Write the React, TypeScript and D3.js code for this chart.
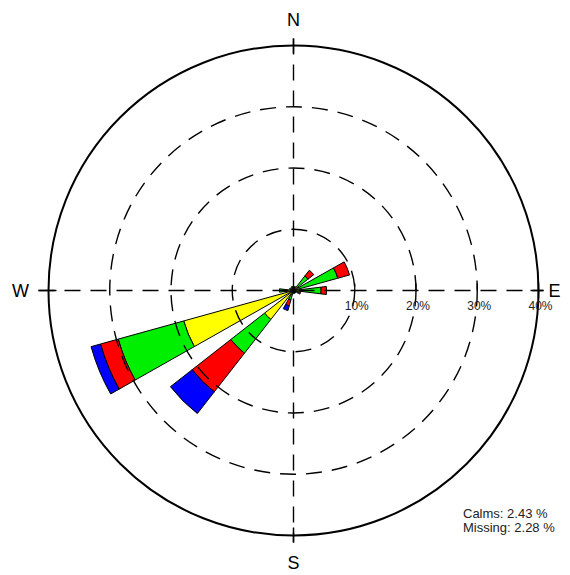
import React from "react";
import * as d3 from "d3";

// Wind directions (16-point compass), clockwise from north
const directions = ["N", "NNE", "NE", "ENE", "E", "ESE", "SE", "SSE", "S", "SSW", "SW", "WSW", "W", "WNW", "NW", "NNW"];

// Frequency (%) per speed class, one value per direction
const classYellow = [0.4, 0.4, 0.8, 1.0, 1.0, 0.5, 0.3, 0.3, 0.3, 0.6, 6.0, 18.6, 1.5, 0.4, 0.4, 0.4];
const classGreen = [0.3, 0.3, 2.2, 6.5, 3.5, 0.4, 0.2, 0.2, 0.2, 1.0, 7.0, 11.1, 0.8, 0.3, 0.2, 0.3];
const classRed = [0, 0, 1.2, 2.0, 0.9, 0.3, 0, 0, 0, 1.0, 8.0, 3.0, 0, 0, 0, 0];
const classBlue = [0, 0, 0, 0, 0, 0, 0, 0, 0, 0.8, 4.5, 1.6, 0, 0, 0, 0];

const speedClasses = [
  { values: classYellow, color: "#ffff00" },
  { values: classGreen, color: "#00ee00" },
  { values: classRed, color: "#ff0000" },
  { values: classBlue, color: "#0000ff" },
];

// Rings and their labels
const ringValues = [10, 20, 30];
const maxValue = 40;
const ringLabels = ["10%", "20%", "30%", "40%"];
const compassLabels = [
  { text: "N", angle: 0, dist: 271 },
  { text: "E", angle: 90, dist: 261 },
  { text: "S", angle: 180, dist: 272 },
  { text: "W", angle: 270, dist: 273 },
];
const calmsText = "Calms: 2.43 %";
const missingText = "Missing: 2.28 %";

const W = 570;
const H = 575;
const cx = 293.5;
const cy = 290.5;
const R = 245;

export default function App() {
  const r = d3.scaleLinear().domain([0, maxValue]).range([0, R]);
  const halfWidth = (7 * Math.PI) / 180;
  const arc = d3.arc<any>();

  const petals: { d: string; color: string; key: string }[] = [];
  directions.forEach((dir, i) => {
    const centerAngle = (i * 22.5 * Math.PI) / 180;
    let acc = 0;
    speedClasses.forEach((sc, k) => {
      const v = sc.values[i];
      if (v <= 0) return;
      const d = arc({
        innerRadius: r(acc),
        outerRadius: r(acc + v),
        startAngle: centerAngle - halfWidth,
        endAngle: centerAngle + halfWidth,
      }) as string;
      petals.push({ d, color: sc.color, key: `${dir}-${k}` });
      acc += v;
    });
  });

  const dash = "16,10";
  const font = "'Liberation Sans', Arial, sans-serif";
  const narrow = "'Liberation Sans Narrow', 'Liberation Sans', Arial, sans-serif";

  return (
    <svg width={W} height={H} style={{ position: "absolute", left: 0, top: 0, background: "#fff" }}>
      <g transform={`translate(${cx},${cy})`}>
        {/* petals */}
        {petals.map((p) => (
          <path key={p.key} d={p.d} fill={p.color} stroke="#000" strokeWidth={1} strokeLinejoin="miter" />
        ))}

        {/* dashed rings */}
        {ringValues.map((v) => (
          <circle key={v} r={r(v)} fill="none" stroke="#000" strokeWidth={1.4} strokeDasharray={dash} />
        ))}

        {/* outer ring */}
        <circle r={r(maxValue)} fill="none" stroke="#000" strokeWidth={2} />

        {/* dashed axes */}
        <line x1={-R - 10} x2={R + 5} y1={0} y2={0} stroke="#000" strokeWidth={1.4} strokeDasharray={dash} />
        <line x1={0} x2={0} y1={-R - 7} y2={R + 7} stroke="#000" strokeWidth={1.4} strokeDasharray={dash} />

        {/* axis end ticks */}
        <line x1={0} x2={0} y1={-R - 7} y2={-R + 8} stroke="#000" strokeWidth={1.5} />
        <line x1={0} x2={0} y1={R - 8} y2={R + 7} stroke="#000" strokeWidth={1.5} />
        <line x1={-R - 10} x2={-R + 8} y1={0} y2={0} stroke="#000" strokeWidth={1.5} />
        <line x1={R - 8} x2={R + 5} y1={0} y2={0} stroke="#000" strokeWidth={1.5} />

        {/* scale ticks along east axis */}
        {ringValues.map((v) => (
          <line key={`t${v}`} x1={r(v)} x2={r(v)} y1={-7} y2={0} stroke="#000" strokeWidth={1.3} />
        ))}
        <line x1={r(maxValue)} x2={r(maxValue)} y1={-8} y2={8} stroke="#000" strokeWidth={1.5} />

        {/* scale labels */}
        {ringLabels.map((t, i) => (
          <text
            key={t}
            x={r((i + 1) * 10) + 2}
            y={19}
            textAnchor="middle"
            fontFamily={narrow}
            fontSize={12}
            fill="#222"
          >
            {t}
          </text>
        ))}
      </g>

      {/* compass labels */}
      {compassLabels.map((c) => {
        const a = (c.angle * Math.PI) / 180;
        const x = cx + Math.sin(a) * c.dist;
        const y = cy - Math.cos(a) * c.dist;
        return (
          <text
            key={c.text}
            x={x}
            y={y}
            textAnchor="middle"
            dominantBaseline="central"
            fontFamily={font}
            fontSize={18}
            fill="#000"
          >
            {c.text}
          </text>
        );
      })}

      {/* calms / missing */}
      <text x={463} y={518} fontFamily={narrow} fontSize={13} fill="#222">
        {calmsText}
      </text>
      <text x={463} y={532} fontFamily={narrow} fontSize={13} fill="#222">
        {missingText}
      </text>
    </svg>
  );
}
